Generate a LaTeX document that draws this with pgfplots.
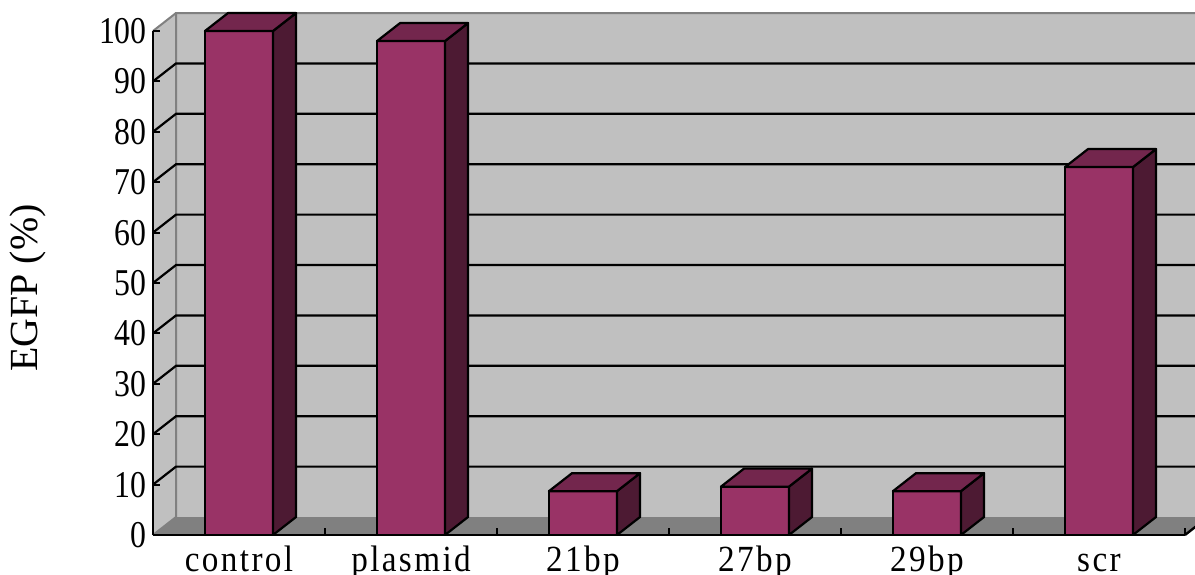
\documentclass[border=0pt]{standalone}
\usepackage{pgfplots}
\pgfplotsset{compat=1.18}
\usepackage{pgfplotstable}
\usepackage{fontspec}
\setmainfont{Liberation Serif}
\newfontfamily\tickfont{Liberation Serif}[FakeStretch=0.84]
\newfontfamily\catfont{Liberation Serif}[FakeStretch=0.9, LetterSpace=6.5]
\definecolor{barfront}{RGB}{153,51,102}
\definecolor{bartop}{RGB}{115,38,77}
\definecolor{barside}{RGB}{77,26,51}
\definecolor{wall}{RGB}{192,192,192}
\definecolor{floorc}{RGB}{128,128,128}

\pgfplotstableread{
x v
0 100
1 98
2 8.7
3 9.6
4 8.7
5 73
}\datatable

\begin{document}
\begin{tikzpicture}
\begin{axis}[
  scale only axis, width=1032bp, height=504bp,
  xmin=-0.5, xmax=5.5, ymin=0, ymax=100,
  clip=false, axis on top,
  axis lines*=left,
  axis line style={black, line width=2.6bp},
  tick align=inside,
  major tick length=7bp,
  tick style={black, line width=2bp},
  xtick={-0.5,0.5,1.5,2.5,3.5,4.5,5.5},
  xticklabels={},
  extra x ticks={0,1,2,3,4,5},
  extra x tick labels={control,plasmid,21bp,27bp,29bp,scr},
  extra x tick style={major tick length=0pt,
    xticklabel style={font=\catfont\fontsize{37}{40}\selectfont, inner sep=0pt, anchor=base, yshift=-36bp}},
  ytick={0,10,...,100},
  yticklabel style={font=\tickfont\fontsize{38}{40}\selectfont, inner sep=0pt, xshift=-6bp},
  /pgf/number format/assume math mode=true,
]
\coordinate (O) at (axis cs:-0.5,0);
% back wall
\addplot[fill=wall, draw=none] coordinates {(-0.366,3.57) (5.634,3.57) (5.634,103.57) (-0.366,103.57)} -- cycle;
% side wall
\addplot[fill=wall, draw=none] coordinates {(-0.5,0) (-0.366,3.57) (-0.366,103.57) (-0.5,100)} -- cycle;
% floor
\addplot[fill=floorc, draw=none] coordinates {(-0.5,0) (5.5,0) (5.634,3.57) (-0.366,3.57)} -- cycle;
% wall edges
\addplot[floorc, line width=2bp] coordinates {(-0.5,0) (-0.366,3.57) (-0.366,103.57) (5.634,103.57)};
\addplot[floorc, line width=2bp] coordinates {(-0.5,100) (-0.366,103.57)};
\addplot[black, line width=2.4bp] coordinates {(5.5,0) (5.634,3.57)};
% grid lines
\pgfplotsinvokeforeach{10,20,...,90}{
  \pgfmathsetmacro{\gb}{#1+3.57}
  \edef\temp{\noexpand\addplot[black, line width=2.2bp] coordinates {(-0.5,#1) (-0.366,\gb) (5.634,\gb)};}
  \temp
}
% bars front faces
\addplot[ybar, bar width=0.3953, fill=barfront, draw=black, line width=2.2bp] table[x=x, y=v] {\datatable};
% bars side and top faces
\pgfplotsinvokeforeach{0,...,5}{
  \pgfplotstablegetelem{#1}{v}\of\datatable
  \pgfmathsetmacro{\vt}{\pgfplotsretval}
  \pgfmathsetmacro{\vb}{\vt+3.57}
  \pgfmathsetmacro{\xl}{#1-0.19765}
  \pgfmathsetmacro{\xr}{#1+0.19765}
  \pgfmathsetmacro{\xlb}{\xl+0.134}
  \pgfmathsetmacro{\xrb}{\xr+0.134}
  \edef\temp{\noexpand\addplot[fill=barside, draw=black, line width=2.2bp, line join=round] coordinates {(\xr,0) (\xrb,3.57) (\xrb,\vb) (\xr,\vt)} -- cycle;
    \noexpand\addplot[fill=bartop, draw=black, line width=2.2bp, line join=round] coordinates {(\xl,\vt) (\xlb,\vb) (\xrb,\vb) (\xr,\vt)} -- cycle;}
  \temp
}
\node[rotate=90, font=\fontsize{40}{42}\selectfont] at ([xshift=-125bp]axis cs:-0.5,49) {EGFP (\%)};
\end{axis}
\pgfresetboundingbox
\path[use as bounding box] ([shift={(-153bp,-40bp)}]O) rectangle ([shift={(1042bp,535bp)}]O);
\end{tikzpicture}
\end{document}
